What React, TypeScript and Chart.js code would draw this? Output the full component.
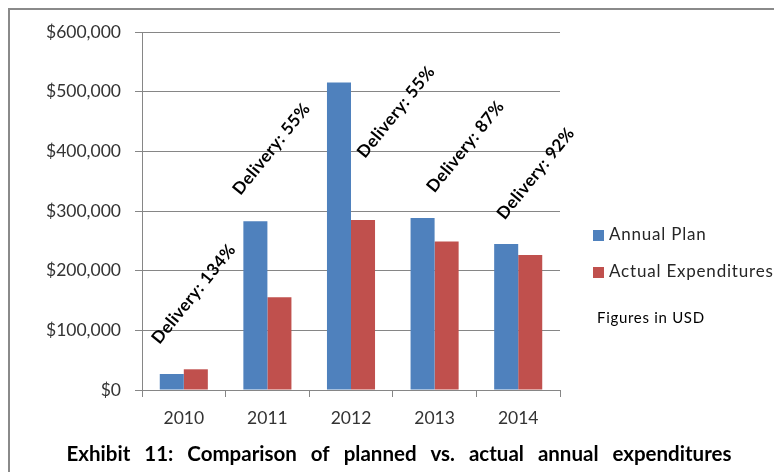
import React, { useEffect, useRef } from "react";
import { Chart, registerables } from "chart.js";

Chart.register(...registerables);

const categories = ["2010", "2011", "2012", "2013", "2014"];
const annualPlan = [26800, 283000, 515400, 288100, 244600];
const actualExpenditures = [34700, 155300, 284800, 249000, 226100];
const deliveryLabels = ["Delivery: 134%", "Delivery: 55%", "Delivery: 55%", "Delivery: 87%", "Delivery: 92%"];
const seriesNames = ["Annual Plan", "Actual Expenditures"];
const yTicks = [0, 100000, 200000, 300000, 400000, 500000, 600000];
const noteText = "Figures in USD";
const titleText = "Exhibit 11: Comparison of planned vs. actual annual expenditures";

// placement of the rotated delivery notes (category shift, value of text centre)
const noteShift = [0.12, 0.05, 0.54, 0.37, 0.21];
const noteValue = [161000, 404000, 466000, 408000, 363000];

const BLUE = "#4F81BD";
const RED = "#C0504D";
const AXIS = "#868686";
const FONT = "Lato, 'Open Sans', sans-serif";

export default function App() {
  const ref = useRef<HTMLCanvasElement | null>(null);

  useEffect(() => {
    const canvas = ref.current;
    if (!canvas) return;

    const decor = {
      id: "decor",
      beforeDraw(chart: any) {
        const ctx = chart.ctx;
        ctx.save();
        ctx.fillStyle = "#ffffff";
        ctx.fillRect(0, 0, chart.width, chart.height);
        ctx.strokeStyle = "#8a8a8a";
        ctx.lineWidth = 2;
        ctx.strokeRect(9, 9, chart.width + 20, chart.height + 20);
        ctx.restore();
      },
      afterDatasetsDraw(chart: any) {
        const ctx = chart.ctx;
        const xs = chart.scales.x;
        const ys = chart.scales.y;
        const catW = (xs.right - xs.left) / categories.length;
        ctx.save();
        ctx.fillStyle = "#000000";
        ctx.font = `bold 17px ${FONT}`;
        ctx.letterSpacing = "0.5px";
        ctx.textAlign = "center";
        ctx.textBaseline = "middle";
        deliveryLabels.forEach((t, i) => {
          const x = xs.getPixelForValue(i) + noteShift[i] * catW;
          const y = ys.getPixelForValue(noteValue[i]);
          ctx.save();
          ctx.translate(x, y);
          ctx.rotate((-51 * Math.PI) / 180);
          ctx.fillText(t, 0, 0);
          ctx.restore();
        });
        ctx.restore();
      },
      afterDraw(chart: any) {
        const ctx = chart.ctx;
        const ca = chart.chartArea;
        ctx.save();
        const lx = ca.right + 33;
        const colors = [BLUE, RED];
        const rows = [235, 272];
        ctx.textBaseline = "middle";
        ctx.textAlign = "left";
        seriesNames.forEach((n, i) => {
          ctx.fillStyle = colors[i];
          ctx.fillRect(lx, rows[i] - 5, 11, 11);
          ctx.fillStyle = "#262626";
          ctx.font = `17px ${FONT}`;
          ctx.letterSpacing = "0.8px";
          ctx.fillText(n, lx + 16, rows[i]);
        });
        ctx.fillStyle = "#000000";
        ctx.font = `15px ${FONT}`;
        ctx.letterSpacing = "0.7px";
        ctx.fillText(noteText, lx + 4, 318);
        ctx.font = `bold 20.5px ${FONT}`;
        ctx.letterSpacing = "0px";
        ctx.wordSpacing = "9px";
        ctx.textAlign = "center";
        ctx.fillText(titleText, 399, 454);
        ctx.restore();
      },
    };

    const chart = new Chart(canvas, {
      type: "bar",
      data: {
        labels: categories,
        datasets: [
          { label: seriesNames[0], data: annualPlan, backgroundColor: BLUE, borderWidth: 0 },
          { label: seriesNames[1], data: actualExpenditures, backgroundColor: RED, borderWidth: 0 },
        ],
      },
      options: {
        responsive: false,
        animation: false,
        layout: { padding: { left: 0, right: 214, top: 32, bottom: 42 } },
        datasets: { bar: { categoryPercentage: 0.575, barPercentage: 1 } },
        plugins: {
          legend: { display: false },
          title: { display: false },
          tooltip: { enabled: false },
        },
        scales: {
          x: {
            afterFit(scale: any) {
              scale.height = 40;
            },
            grid: { drawOnChartArea: false, color: AXIS, tickLength: 7 },
            border: { color: AXIS },
            ticks: { color: "#333333", font: { family: FONT, size: 17.5 }, padding: 11 },
          },
          y: {
            min: 0,
            max: 600000,
            afterFit(scale: any) {
              scale.width = 142;
            },
            afterBuildTicks(scale: any) {
              scale.ticks = yTicks.map((v) => ({ value: v }));
            },
            grid: { color: AXIS, tickLength: 7 },
            border: { color: AXIS },
            ticks: {
              color: "#333333",
              font: { family: FONT, size: 17.5 },
              padding: 14,
              callback: (v: any) => "$" + Number(v).toLocaleString("en-US"),
            },
          },
        },
      },
      plugins: [decor],
    });
    return () => chart.destroy();
  }, []);

  return (
    <div style={{ position: "fixed", left: 0, top: 0, width: 774, height: 472, overflow: "hidden", background: "#fff" }}>
      <canvas ref={ref} width={774} height={472} style={{ width: 774, height: 472, display: "block" }} />
    </div>
  );
}
